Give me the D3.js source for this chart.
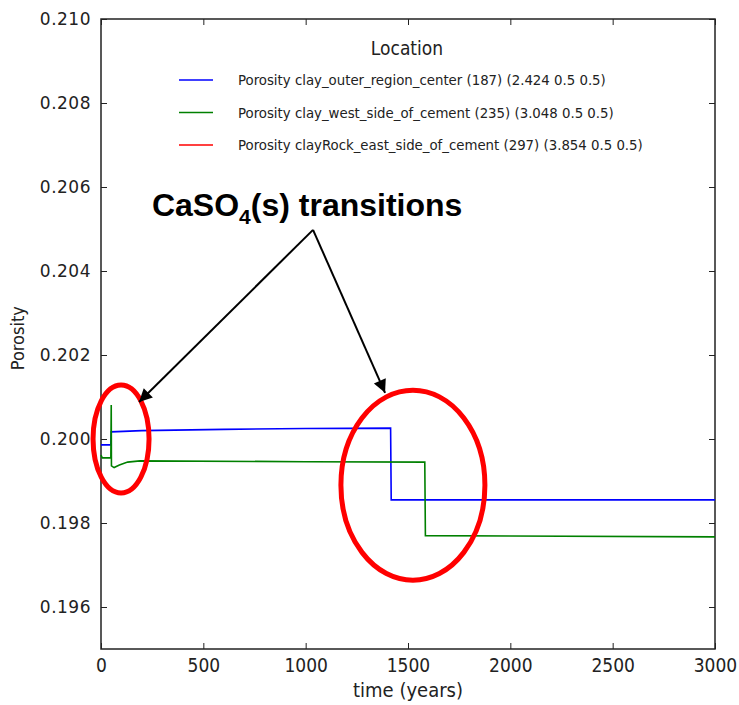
<!DOCTYPE html>
<html>
<head>
<meta charset="utf-8">
<script src="https://cdn.jsdelivr.net/npm/d3@7"></script>
<style>
  body { margin: 0; background: #fff; }
  text { font-family: "DejaVu Sans", sans-serif; }
</style>
</head>
<body>
<div id="chart-area"></div>
<script>
// series data
var blueTime = [0, 48, 50, 200, 600, 1000, 1415, 1418, 2000, 3000];
var blueVal  = [0.19986, 0.19986, 0.20017, 0.20020, 0.20023, 0.20025, 0.20026, 0.19855, 0.19855, 0.19855];

var greenTime = [0, 6, 48, 50, 51, 64, 90, 130, 190, 1000, 1582, 1585, 2000, 3000];
var greenVal  = [0.19962, 0.19955, 0.19955, 0.20081, 0.19936, 0.19932, 0.19938, 0.19945, 0.19948, 0.19946, 0.19945, 0.19770, 0.19769, 0.19767];

var redTime = [];
var redVal  = [];

var legendLabels = [
    "Porosity clay_outer_region_center (187) (2.424 0.5 0.5)",
    "Porosity clay_west_side_of_cement (235) (3.048 0.5 0.5)",
    "Porosity clayRock_east_side_of_cement (297) (3.854 0.5 0.5)"
];
var legendColors = ["#0000ff", "#008000", "#ff0000"];

var xTicks = [0, 500, 1000, 1500, 2000, 2500, 3000];
var yTicks = [0.196, 0.198, 0.200, 0.202, 0.204, 0.206, 0.208, 0.210];

var margin = { left: 101, right: 24, top: 19, bottom: 56 };
var width = 739 - margin.left - margin.right;
var height = 705 - margin.top - margin.bottom;

var svg = d3.select("#chart-area").append("svg")
    .attr("width", 739)
    .attr("height", 705);

var g = svg.append("g")
    .attr("transform", "translate(" + margin.left + ", " + margin.top + ")");

var x = d3.scaleLinear().domain([0, 3000]).range([0, width]);
var y = d3.scaleLinear().domain([0.195, 0.210]).range([height, 0]);

// frame
g.append("rect")
    .attr("width", width)
    .attr("height", height)
    .attr("fill", "none")
    .attr("stroke", "#222")
    .attr("stroke-width", 1.5);

// ticks inside on all sides
var bottomAxis = d3.axisBottom(x).tickValues(xTicks).tickSize(-6).tickPadding(10)
    .tickFormat(d3.format("d"));
g.append("g")
    .attr("class", "bottom axis")
    .attr("transform", "translate(0, " + height + ")")
    .call(bottomAxis)
    .call(a => a.select(".domain").remove())
    .selectAll("text")
    .style("font-family", "'DejaVu Sans Condensed', sans-serif")
    .style("font-size", "19px")
    .style("fill", "#222");

g.append("g")
    .attr("class", "top axis")
    .call(d3.axisTop(x).tickValues(xTicks).tickSize(-6).tickFormat(""))
    .call(a => a.select(".domain").remove());

var leftAxis = d3.axisLeft(y).tickValues(yTicks).tickSize(-6).tickPadding(10)
    .tickFormat(d3.format(".3f"));
g.append("g")
    .attr("class", "left axis")
    .call(leftAxis)
    .call(a => a.select(".domain").remove())
    .selectAll("text")
    .style("font-size", "17px")
    .style("letter-spacing", "0.5px")
    .style("fill", "#222");

g.append("g")
    .attr("class", "right axis")
    .attr("transform", "translate(" + width + ", 0)")
    .call(d3.axisRight(y).tickValues(yTicks).tickSize(-6).tickFormat(""))
    .call(a => a.select(".domain").remove());

g.selectAll(".axis .tick line").attr("stroke", "#222");

// labels
g.append("text")
    .attr("x", width / 2)
    .attr("y", height + 48)
    .attr("text-anchor", "middle")
    .style("font-family", "'DejaVu Sans Condensed', sans-serif")
    .style("font-size", "20px")
    .style("fill", "#222")
    .text("time (years)");

g.append("text")
    .attr("transform", "rotate(-90)")
    .attr("x", -(y(0.2024)))
    .attr("y", -77)
    .attr("text-anchor", "middle")
    .style("font-family", "'DejaVu Sans Condensed', sans-serif")
    .style("font-size", "18px")
    .style("fill", "#222")
    .text("Porosity");

// lines
var line = d3.line()
    .x(d => x(d[0]))
    .y(d => y(d[1]));

var series = [
    { t: redTime, v: redVal, c: legendColors[2] },
    { t: blueTime, v: blueVal, c: legendColors[0] },
    { t: greenTime, v: greenVal, c: legendColors[1] }
];
var plot = g.append("g");
series.forEach(s => {
    if (!s.t.length) return;
    plot.append("path")
        .datum(d3.zip(s.t, s.v))
        .attr("d", line)
        .attr("fill", "none")
        .attr("stroke", s.c)
        .attr("stroke-width", 1.6);
});

// legend
var leg = svg.append("g");
leg.append("text")
    .attr("x", 407)
    .attr("y", 55)
    .attr("text-anchor", "middle")
    .style("font-family", "'DejaVu Sans Condensed', sans-serif")
    .style("font-size", "19px")
    .style("fill", "#222")
    .text("Location");

legendLabels.forEach((lab, i) => {
    var yy = 80 + i * 32.5;
    leg.append("line")
        .attr("x1", 179).attr("x2", 213)
        .attr("y1", yy).attr("y2", yy)
        .attr("stroke", legendColors[i])
        .attr("stroke-width", 1.6);
    leg.append("text")
        .attr("x", 238)
        .attr("y", yy + 5)
        .style("font-family", "'DejaVu Sans Condensed', sans-serif")
        .style("font-size", "14.8px")
        .style("fill", "#222")
        .text(lab);
});

// annotation: ellipses, arrows, text
var ann = svg.append("g").attr("transform", "translate(" + margin.left + ", " + margin.top + ")");

var circles = [
    { t: 98, v: 0.2000, rx: 28, ry: 54 },
    { t: 1524, v: 0.19890, rx: 72, ry: 95 }
];
circles.forEach(c => {
    ann.append("ellipse")
        .attr("cx", x(c.t))
        .attr("cy", y(c.v))
        .attr("rx", c.rx)
        .attr("ry", c.ry)
        .attr("fill", "none")
        .attr("stroke", "#ff0000")
        .attr("stroke-width", 5);
});

svg.append("defs").append("marker")
    .attr("id", "arrow")
    .attr("viewBox", "0 0 10 10")
    .attr("refX", 10).attr("refY", 5)
    .attr("markerWidth", 16).attr("markerHeight", 13)
    .attr("markerUnits", "userSpaceOnUse")
    .attr("orient", "auto")
    .append("path")
    .attr("d", "M0,0 L10,5 L0,10 z")
    .attr("fill", "#000");

var apex = [1036, 0.20498];
var tips = [[186, 0.20088], [1388, 0.20110]];
tips.forEach(tp => {
    ann.append("line")
        .attr("x1", x(apex[0])).attr("y1", y(apex[1]))
        .attr("x2", x(tp[0])).attr("y2", y(tp[1]))
        .attr("stroke", "#000")
        .attr("stroke-width", 2)
        .attr("marker-end", "url(#arrow)");
});

var title = ann.append("text")
    .attr("x", x(249))
    .attr("y", y(0.20530))
    .style("font-family", "'Liberation Sans', Arial, sans-serif")
    .style("font-weight", "bold")
    .style("font-size", "32px")
    .style("fill", "#000");
title.append("tspan").text("CaSO");
title.append("tspan").attr("dy", 8).style("font-size", "21px").text("4");
title.append("tspan").attr("dy", -8).text("(s) transitions");
</script>
</body>
</html>
